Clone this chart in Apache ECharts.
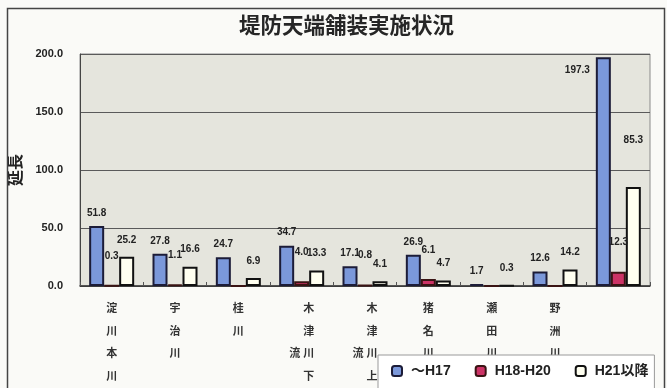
<!DOCTYPE html>
<html><head><meta charset="utf-8">
<script src="https://cdn.jsdelivr.net/npm/echarts@6/dist/echarts.min.js"></script>
<style>html,body{margin:0;padding:0;background:#fafaf7;}#c{width:667px;height:388px;}</style>
</head><body><div id="c"></div>
<script>
const title = '堤防天端舗装実施状況';
const categories = ['淀川本川','宇治川','桂川','木津川下流','木津川上流','猪名川','瀬田川','野洲川',''];
const seriesNames = ['～H17','H18-H20','H21以降'];
const valuesH17 = [51.8, 27.8, 24.7, 34.7, 17.1, 26.9, 1.7, 12.6, 197.3];
const valuesH18H20 = [0.3, 1.1, 0, 4.0, 0.8, 6.1, 0, 0, 12.3];
const valuesH21 = [25.2, 16.6, 6.9, 13.3, 4.1, 4.7, 0.3, 14.2, 85.3];
const yTicks = [0, 50, 100, 150, 200];

const chart = echarts.init(document.getElementById('c'), null, {renderer:'canvas'});
const font = '"Liberation Sans", Arial, "Noto Sans CJK JP", sans-serif';

function catLabel(s){
  const ch = Array.from(s);
  if (ch.length <= 4) return ch.join('\n');
  return ['\u3000 '+ch[0], '\u3000 '+ch[1], ch[4]+' '+ch[2], '\u3000 '+ch[3]].join('\n');
}
const lblBase = {show:true, position:'top', fontFamily:font, fontSize:10, fontWeight:'bold', color:'#222',
  formatter: p => p.value === 0 ? '' : p.value.toFixed(1)};
const lastIdx = categories.length - 1;

function mk(name, vals, fill, border, dist, lastLabel){
  return {
    name, type:'bar', barWidth:15, barGap:'0%',
    itemStyle:{color:fill, borderColor:border, borderWidth:2},
    label:Object.assign({}, lblBase, {distance:dist}),
    data: vals.map((v, i) => (i === lastIdx && lastLabel ? {value:v, label:lastLabel} : v))
  };
}

chart.setOption({
  backgroundColor:'#fafaf7',
  animation:false,
  title:{text:title, left:234, top:11, textStyle:{fontFamily:font, fontSize:21.5, fontWeight:'bold', color:'#262626'}},
  grid:{left:80, right:17, top:54, bottom:100, show:true, backgroundColor:'#e5e5dd', borderColor:'#8a8a8a', borderWidth:1},
  legend:{left:378, top:355, width:285, itemWidth:10, itemHeight:10, itemGap:24,
    padding:[9,6,20,13], backgroundColor:'#ffffff', borderColor:'#9a9a9a', borderWidth:1,
    textStyle:{fontFamily:font, fontSize:14, fontWeight:'bold', color:'#222', padding:[0,0,0,4]}, data:seriesNames},
  xAxis:{type:'category', data:categories,
    axisLine:{lineStyle:{color:'#333', width:1.5}},
    axisTick:{show:true, inside:true, length:4, lineStyle:{color:'#555'}},
    axisLabel:{interval:0, margin:12, fontFamily:font, fontSize:11, fontWeight:'bold', color:'#333', lineHeight:22.5, formatter:catLabel}},
  yAxis:{type:'value', min:yTicks[0], max:yTicks[yTicks.length-1], interval:50,
    name:'延長', nameLocation:'middle', nameRotate:90, nameGap:52,
    nameTextStyle:{fontFamily:font, fontSize:16, fontWeight:'bold', color:'#222'},
    axisLine:{show:true, lineStyle:{color:'#444'}}, axisTick:{show:false},
    axisLabel:{margin:17, fontFamily:font, fontSize:11, fontWeight:'bold', color:'#222', formatter:v=>v.toFixed(1)},
    splitLine:{lineStyle:{color:'#5a5a5a', width:1}}},
  series:[
    mk(seriesNames[0], valuesH17, '#7b98da', '#1c1c38', 8, {position:[-31, 8]}),
    mk(seriesNames[1], valuesH18H20, '#cc3366', '#3a1414', 24, null),
    mk(seriesNames[2], valuesH21, '#fffff0', '#111111', 12, {distance:42})
  ],
  graphic:[{type:'rect', left:5, top:6, shape:{width:657, height:390}, style:{fill:'none', stroke:'#444', lineWidth:1.5}, silent:true, z:100}]
});
</script></body></html>
